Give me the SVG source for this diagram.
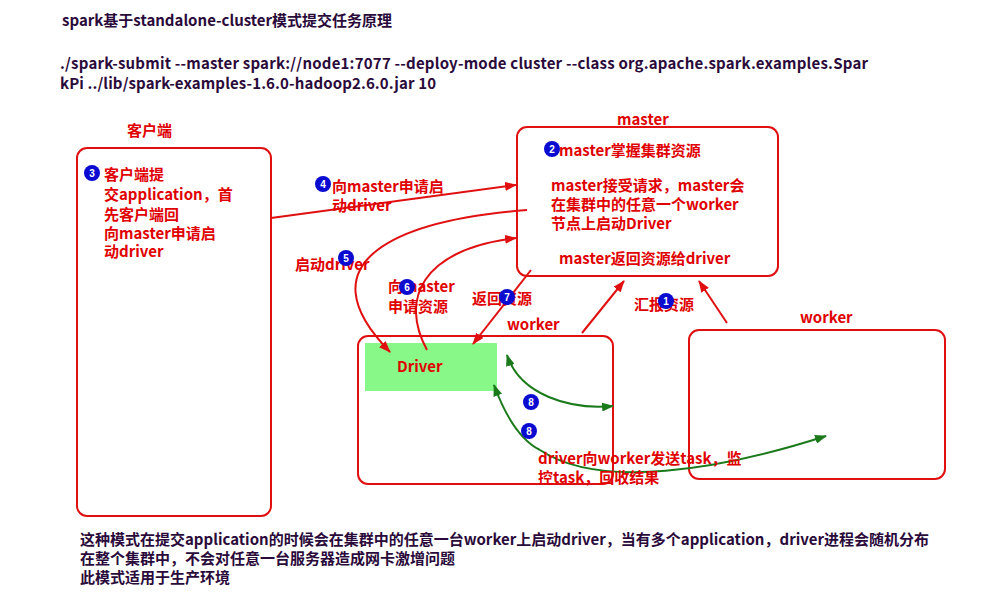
<svg xmlns="http://www.w3.org/2000/svg" width="1000" height="600" viewBox="0 0 1000 600">
<style>
text{font-family:"Noto Sans CJK SC","Liberation Sans",sans-serif;font-weight:bold;font-size:15px}
.r{fill:#e00000}.d{fill:#2a0a3a}
.box{fill:#fff;stroke:#e01010;stroke-width:2}
.c{fill:none;stroke:#e01010;stroke-width:2}
.g{fill:none;stroke:#1a7a1a;stroke-width:2}
.n circle{fill:#0a0ad0}.n text{fill:#fff;font-size:10px;text-anchor:middle;font-family:"Liberation Sans",sans-serif}
</style>
<defs>
<marker id="ar" markerWidth="12" markerHeight="9" refX="11" refY="4.5" orient="auto" markerUnits="userSpaceOnUse"><path d="M0,0L12,4.5L0,9z" fill="#e01010"/></marker>
<marker id="ag" markerWidth="12" markerHeight="9" refX="11" refY="4.5" orient="auto-start-reverse" markerUnits="userSpaceOnUse"><path d="M0,0L12,4.5L0,9z" fill="#1a7a1a"/></marker>
</defs>
<rect width="1000" height="600" fill="#fff"/>
<text x="62" y="26" class="d">spark基于standalone-cluster模式提交任务原理</text>
<text x="60" y="69" class="d" textLength="808">./spark-submit --master spark://node1:7077 --deploy-mode cluster --class org.apache.spark.examples.Spar</text>
<text x="60" y="89" class="d" textLength="376">kPi ../lib/spark-examples-1.6.0-hadoop2.6.0.jar 10</text>
<g id="client">
<text x="127" y="136" class="r">客户端</text>
<rect x="77" y="148" width="194" height="368" rx="10" class="box"/>
<text class="r"><tspan x="104" y="180">客户端提</tspan><tspan x="104" y="200">交application，首</tspan><tspan x="104" y="220">先客户端回</tspan><tspan x="104" y="239">向master申请启</tspan><tspan x="104" y="257">动driver</tspan></text>
</g>
<g id="master">
<text x="617" y="125" class="r">master</text>
<rect x="517" y="127" width="261" height="149" rx="10" class="box"/>
<text x="559" y="156" class="r">master掌握集群资源</text>
<text class="r"><tspan x="551" y="191">master接受请求，master会</tspan><tspan x="551" y="210">在集群中的任意一个worker</tspan><tspan x="551" y="229">节点上启动Driver</tspan></text>
<text x="559" y="264" class="r">master返回资源给driver</text>
</g>
<g id="worker1">
<text x="507" y="330" class="r">worker</text>
<rect x="358" y="336" width="255" height="148" rx="10" class="box"/>
</g>
<g id="driver">
<rect x="365" y="343" width="132" height="48" fill="#88f888"/>
<text x="397" y="372" class="r">Driver</text>
</g>
<g id="worker2">
<text x="800" y="323" class="r">worker</text>
<rect x="689" y="330" width="256" height="149" rx="10" class="box"/>
</g>
<g id="connectors">
<path d="M271,218 L516,185" class="c" marker-end="url(#ar)"/>
<path d="M527,210 C400,220 300,260 390,352" class="c" marker-end="url(#ar)"/>
<path d="M427,350 C400,300 420,250 516,238" class="c" marker-end="url(#ar)"/>
<path d="M531,270 L473,344" class="c" marker-end="url(#ar)"/>
<path d="M582,333 L624,281" class="c" marker-end="url(#ar)"/>
<path d="M727,323 L699,281" class="c" marker-end="url(#ar)"/>
<path d="M507,355 C520,395 570,410 613,406" class="g" marker-start="url(#ag)" marker-end="url(#ag)"/>
<path d="M494,385 C505,415 520,440 540,450" class="g" marker-start="url(#ag)"/>
<path d="M540,450 C600,490 720,470 826,436" class="g" marker-end="url(#ag)"/>
</g>
<text x="332" y="192" class="r">向master申请启</text>
<text x="332" y="211" class="r">动driver</text>
<text x="295" y="270" class="r">启动driver</text>
<text class="r"><tspan x="388" y="292">向master</tspan><tspan x="388" y="312">申请资源</tspan></text>
<text x="472" y="304" class="r">返回资源</text>
<text x="634" y="310" class="r">汇报资源</text>
<text class="r"><tspan x="538" y="464">driver向worker发送task，监</tspan><tspan x="538" y="483">控task，回收结果</tspan></text>
<g class="n"><circle cx="92" cy="173" r="8"/><text x="92" y="177">3</text></g>
<g class="n"><circle cx="552" cy="149" r="8"/><text x="552" y="153">2</text></g>
<g class="n"><circle cx="323" cy="184" r="8"/><text x="323" y="188">4</text></g>
<g class="n"><circle cx="346" cy="258" r="8"/><text x="346" y="262">5</text></g>
<g class="n"><circle cx="407" cy="287" r="8"/><text x="407" y="291">6</text></g>
<g class="n"><circle cx="507" cy="297" r="8"/><text x="507" y="301">7</text></g>
<g class="n"><circle cx="666" cy="301" r="8"/><text x="666" y="305">1</text></g>
<g class="n"><circle cx="531" cy="402" r="8"/><text x="531" y="406">8</text></g>
<g class="n"><circle cx="529" cy="431" r="8"/><text x="529" y="435">8</text></g>
<text class="d"><tspan x="80" y="545">这种模式在提交application的时候会在集群中的任意一台worker上启动driver，当有多个application，driver进程会随机分布</tspan><tspan x="80" y="564">在整个集群中，不会对任意一台服务器造成网卡激增问题</tspan><tspan x="80" y="583">此模式适用于生产环境</tspan></text>
</svg>
